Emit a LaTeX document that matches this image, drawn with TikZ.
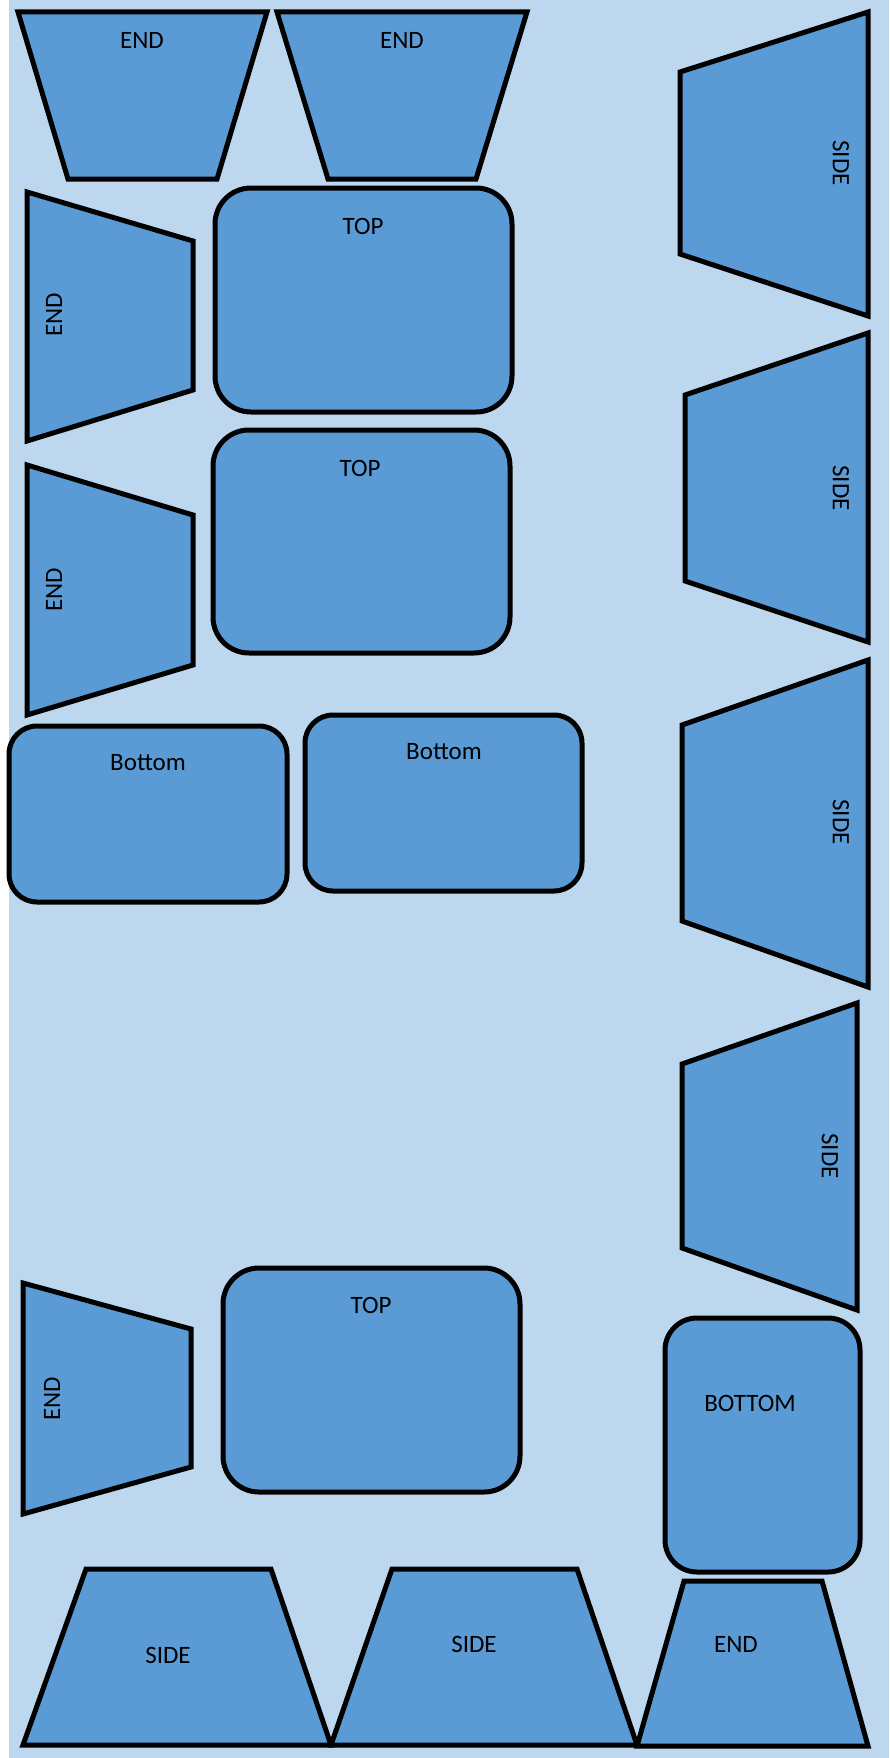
\documentclass[tikz,border=0pt]{standalone}
\usepackage{fontspec}
\setmainfont{Carlito}
\usetikzlibrary{positioning}
\definecolor{sheet}{HTML}{BDD7EE}
\definecolor{panel}{HTML}{5B9BD5}
\tikzset{
  piece/.style={draw=black, fill=panel, line width=5pt, line join=miter},
  tag/.style={font=\fontsize{25}{30}\selectfont, inner sep=0pt, text=black}
}

\begin{document}
\begin{tikzpicture}[x=1pt, y=-1pt]
\useasboundingbox (0,0) rectangle (889,1758);
\fill [sheet] (9,0) rectangle (889,1758);
% ends along the top
\draw [piece] (18,12) -- (267,12) -- (217,179) -- (68,179) -- cycle;
\node [tag] (end1) at (142,40) {END};
\draw [piece] (277,12) -- (527,12) -- (476,179) -- (328,179) -- cycle;
\node [tag] (end2) at (402,40) {END};
% sides down the right
\draw [piece] (680,72) -- (868,12) -- (868,316) -- (680,254) -- cycle;
\node [tag, rotate=-90] (side1) at (841,163) {SIDE};
\draw [piece] (685,395) -- (868,333) -- (868,642) -- (685,581) -- cycle;
\node [tag, rotate=-90] (side2) at (841,488) {SIDE};
\draw [piece] (682,725) -- (868,660) -- (868,987) -- (682,921) -- cycle;
\node [tag, rotate=-90] (side3) at (841,822) {SIDE};
\draw [piece] (682,1064) -- (857,1003) -- (857,1310) -- (682,1248) -- cycle;
\node [tag, rotate=-90] (side4) at (830,1156) {SIDE};
% ends down the left
\draw [piece] (27,192) -- (193,241) -- (193,390) -- (27,441) -- cycle;
\node [tag, rotate=90] (end3) at (54,315) {END};
\draw [piece] (27,465) -- (193,515) -- (193,665) -- (27,715) -- cycle;
\node [tag, rotate=90] (end4) at (54,590) {END};
\draw [piece] (23,1283) -- (191,1329) -- (191,1467) -- (23,1514) -- cycle;
\node [tag, rotate=90] (end5) at (52,1399) {END};
% tops
\draw [piece, rounded corners=36pt] (215,188) rectangle (512,412);
\node [tag] (top1) at (363,226) {TOP};
\draw [piece, rounded corners=36pt] (213,430) rectangle (510,653);
\node [tag] (top2) at (360,468) {TOP};
\draw [piece, rounded corners=36pt] (223,1268) rectangle (520,1492);
\node [tag] (top3) at (371,1305) {TOP};
% bottoms
\draw [piece, rounded corners=28pt] (9,726) rectangle (287,902);
\node [tag] (bot1) at (148,763) {Bottom};
\draw [piece, rounded corners=28pt] (305,715) rectangle (582,891);
\node [tag] (bot2) at (444,752) {Bottom};
\draw [piece, rounded corners=32pt] (665,1318) rectangle (860,1572);
\node [tag] (bot3) at (750,1403) {BOTTOM};
% bottom row
\draw [piece] (23,1745) -- (86,1569) -- (271,1569) -- (331,1745) -- cycle;
\node [tag] (side5) at (168,1655) {SIDE};
\draw [piece] (331,1745) -- (392,1569) -- (577,1569) -- (637,1745) -- cycle;
\node [tag] (side6) at (474,1644) {SIDE};
\draw [piece] (637,1746) -- (684,1581) -- (822,1581) -- (868,1746) -- cycle;
\node [tag] (end6) at (736,1644) {END};
\end{tikzpicture}
\end{document}
